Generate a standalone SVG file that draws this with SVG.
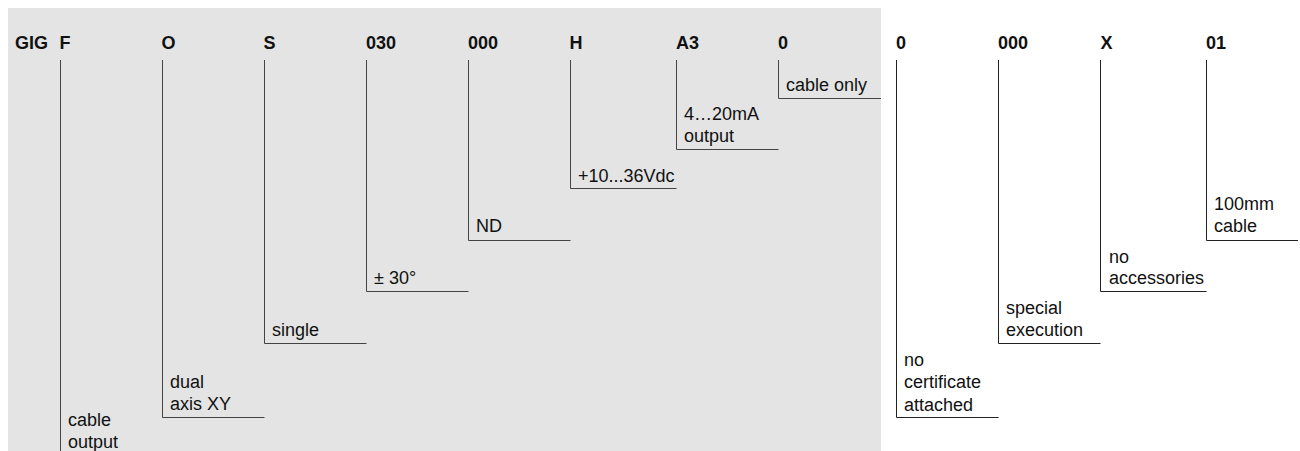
<svg xmlns="http://www.w3.org/2000/svg" width="1300" height="451" viewBox="0 0 1300 451">
<style>
.h{font-family:"Liberation Sans",Arial,sans-serif;font-weight:bold;font-size:18px;fill:#111}
.t{font-family:"Liberation Sans",Arial,sans-serif;font-size:18px;fill:#111}
.ln{fill:none;stroke:#444;stroke-width:1}
.lr{fill:none;stroke:#222;stroke-width:1}
</style>
<rect x="8" y="8" width="873" height="443" fill="#e3e4e3"/>
<g id="headers">
<text class="h" x="15" y="49">GIG</text>
</g>
<g id="connectors">
<path class="ln" d="M60.5 60V451"/>
<path class="ln" d="M162.5 60V417.5H264.5"/>
<path class="ln" d="M264.5 60V343.5H366.5"/>
<path class="ln" d="M366.5 60V291.5H468.5"/>
<path class="ln" d="M468.5 60V240.5H570.5"/>
<path class="ln" d="M570.5 60V188.5H676.5"/>
<path class="ln" d="M676.5 60V149.5H778.5"/>
<path class="ln" d="M778.5 60V98.5H881"/>
<path class="lr" d="M896.5 60V417.5H998.5"/>
<path class="lr" d="M998.5 60V343.5H1100.5"/>
<path class="lr" d="M1100.5 60V291.5H1206.5"/>
<path class="lr" d="M1206.5 60V240.5H1298"/>
</g>
<g id="node-F"><text class="h" x="59.5" y="49">F</text><text class="t" x="68" y="426">cable</text><text class="t" x="68" y="448">output</text></g>
<g id="node-O"><text class="h" x="161.5" y="49">O</text><text class="t" x="170" y="387.5">dual</text><text class="t" x="170" y="410">axis XY</text></g>
<g id="node-S"><text class="h" x="263.5" y="49">S</text><text class="t" x="272" y="336">single</text></g>
<g id="node-030"><text class="h" x="366" y="49">030</text><text class="t" x="374" y="284.3">± 30°</text></g>
<g id="node-000a"><text class="h" x="468" y="49">000</text><text class="t" x="476" y="232.3">ND</text></g>
<g id="node-H"><text class="h" x="569.5" y="49">H</text><text class="t" x="578" y="181.7">+10...36Vdc</text></g>
<g id="node-A3"><text class="h" x="676" y="49">A3</text><text class="t" x="684" y="120">4…20mA</text><text class="t" x="684" y="142">output</text></g>
<g id="node-0a"><text class="h" x="778" y="49">0</text><text class="t" x="786" y="91">cable only</text></g>
<g id="node-0b"><text class="h" x="896" y="49">0</text><text class="t" x="904" y="366">no</text><text class="t" x="904" y="388.3">certificate</text><text class="t" x="904" y="410.7">attached</text></g>
<g id="node-000b"><text class="h" x="998" y="49">000</text><text class="t" x="1006" y="314">special</text><text class="t" x="1006" y="336">execution</text></g>
<g id="node-X"><text class="h" x="1100.5" y="49">X</text><text class="t" x="1109" y="263.3">no</text><text class="t" x="1109" y="284.3">accessories</text></g>
<g id="node-01"><text class="h" x="1206" y="49">01</text><text class="t" x="1214" y="210">100mm</text><text class="t" x="1214" y="232.3">cable</text></g>
</svg>
